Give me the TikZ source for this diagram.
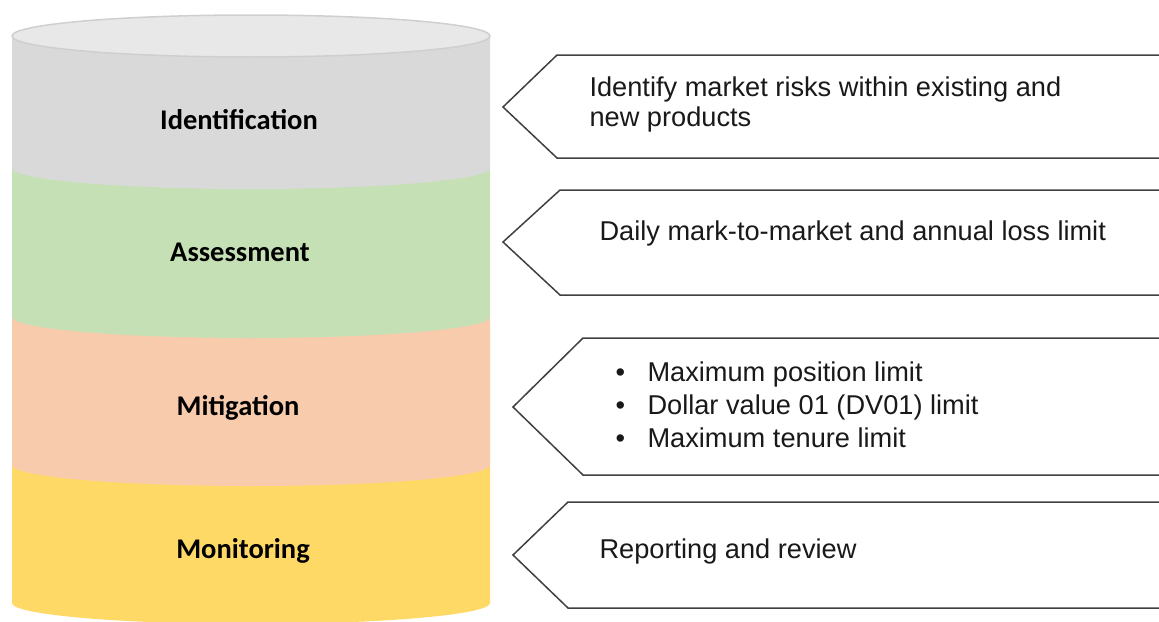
\documentclass[tikz,border=0pt]{standalone}
\usepackage{fontspec}
\setmainfont{Liberation Sans}
\newfontfamily\bandfont{Carlito}
\newlength{\du}
\setlength{\du}{1pt}
\definecolor{bandgray}{HTML}{D9D9D9}
\definecolor{bandgreen}{HTML}{C5E0B4}
\definecolor{bandorange}{HTML}{F8CBAD}
\definecolor{bandyellow}{HTML}{FFD966}
\definecolor{topgray}{HTML}{E8E8E8}
\definecolor{rimgray}{HTML}{CFCFCF}
\definecolor{edgegray}{HTML}{404040}
\tikzset{
  bandlabel/.style={font=\bandfont\bfseries\fontsize{28.5}{32}\selectfont, text=black},
  calloutbox/.style={fill=white, draw=edgegray, line width=1.5\du, line join=miter},
  boxtext/.style={anchor=west, align=left, font=\fontsize{27.2}{30}\selectfont, text=black!90}
}
\begin{document}
\begin{tikzpicture}
\pgftransformxscale{1.000000}
\pgftransformyscale{-1.000000}
\useasboundingbox (0\du,0\du) rectangle (1159\du,621\du);
\clip (0\du,0\du) rectangle (1159\du,621\du);
% cylinder bands, drawn from the bottom up
\foreach \top/\bot/\col in {465/603/bandyellow, 317/465/bandorange, 168/317/bandgreen, 36/168/bandgray}{
  \fill[\col] (12\du,\top\du) -- (12\du,\bot\du)
    arc[start angle=180, end angle=0, x radius=239\du, y radius=21\du]
    -- (490\du,\top\du) -- cycle;
}
% cylinder lid
\filldraw[fill=topgray, draw=rimgray, line width=1.5\du] (251\du,36\du) ellipse[x radius=239\du, y radius=21\du];
% band labels
\node[bandlabel] (ident) at (239\du,120\du) {Identification};
\node[bandlabel] (assess) at (240\du,252\du) {Assessment};
\node[bandlabel] (mitig) at (238\du,408\du) {Mitigation};
\node[bandlabel] (monit) at (243\du,551\du) {Monitoring};
% callout boxes
\draw[calloutbox] (557\du,55\du) -- (1175\du,55\du) -- (1175\du,158\du) -- (557\du,158\du) -- (503\du,107\du) -- cycle;
\draw[calloutbox] (560\du,190\du) -- (1175\du,190\du) -- (1175\du,295\du) -- (560\du,295\du) -- (503\du,242\du) -- cycle;
\draw[calloutbox] (583\du,338\du) -- (1175\du,338\du) -- (1175\du,475\du) -- (583\du,475\du) -- (513\du,407\du) -- cycle;
\draw[calloutbox] (568\du,502\du) -- (1175\du,502\du) -- (1175\du,608\du) -- (568\du,608\du) -- (513\du,555\du) -- cycle;
% setfont left to latex
\node[boxtext] (identtxt) at (586\du,104\du) {Identify market risks within existing and\\new products};
\node[boxtext] (assesstxt) at (596\du,233\du) {Daily mark-to-market and annual loss limit};
\node[boxtext, font=\fontsize{27.2}{33}\selectfont] (mitigtxt) at (612\du,405\du) {\makebox[32\du][l]{\textbullet}Maximum position limit\\\makebox[32\du][l]{\textbullet}Dollar value 01 (DV01) limit\\\makebox[32\du][l]{\textbullet}Maximum tenure limit};
\node[boxtext] (monittxt) at (596\du,551\du) {Reporting and review};
\end{tikzpicture}
\end{document}
